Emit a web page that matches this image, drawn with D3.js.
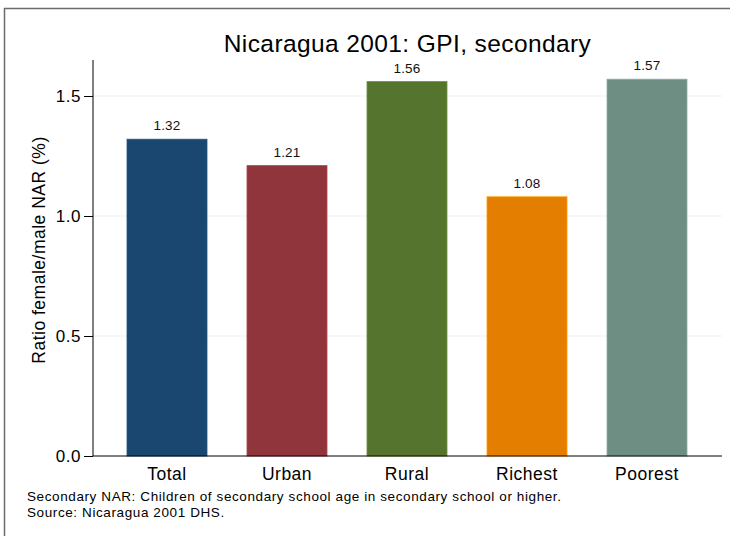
<!DOCTYPE html>
<html>
<head>
<meta charset="utf-8">
<script src="https://cdn.jsdelivr.net/npm/d3@7"></script>
<style>
  body { margin: 0; background: #fff; }
  svg { font-family: "Liberation Sans", Arial, sans-serif; }
</style>
</head>
<body>
<div class="root"></div>
<script>
var categories = ["Total", "Urban", "Rural", "Richest", "Poorest"],
    values = [1.32, 1.21, 1.56, 1.08, 1.57],
    valueLabels = ["1.32", "1.21", "1.56", "1.08", "1.57"],
    yTicks = [0, 0.5, 1.0, 1.5],
    colors = ["#1a476f", "#90353b", "#55752f", "#e37e00", "#6e8e84"],
    notes = ["Secondary NAR: Children of secondary school age in secondary school or higher.",
             "Source: Nicaragua 2001 DHS."];

var width = 730,
    height = 536,
    plot = { left: 93, right: 722, top: 60, bottom: 456 };

var svg = d3.select(".root")
  .append("svg")
  .attr("width", width)
  .attr("height", height);

// outer frame (right/bottom edges fall outside the picture)
svg.append("rect")
  .attr("x", 4.5).attr("y", 8.5)
  .attr("width", 740).attr("height", 540)
  .attr("fill", "none")
  .attr("stroke", "#6b6b6b")
  .attr("stroke-width", 1.5);

var x = d3.scaleBand()
  .domain(categories)
  .range([107, 707])
  .paddingInner(1 / 3)
  .paddingOuter(1 / 6);

var y = d3.scaleLinear()
  .domain([0, 1.65])
  .range([plot.bottom, plot.top]);

// gridlines
svg.append("g")
  .selectAll("line")
  .data(yTicks.filter(d => d > 0))
  .enter().append("line")
    .attr("x1", plot.left).attr("x2", plot.right)
    .attr("y1", d => y(d)).attr("y2", d => y(d))
    .attr("stroke", "#eaf2f3")
    .attr("stroke-width", 1.2);

// bars
svg.append("g")
  .selectAll("rect")
  .data(values)
  .enter().append("rect")
    .attr("x", (d, i) => x(categories[i]))
    .attr("y", d => y(d))
    .attr("width", x.bandwidth())
    .attr("height", d => y(0) - y(d))
    .attr("fill", (d, i) => colors[i])
    .attr("stroke", (d, i) => d3.color(colors[i]).brighter(0.6))
    .attr("stroke-width", 0.8);

// value labels
svg.append("g")
  .selectAll("text")
  .data(values)
  .enter().append("text")
    .attr("x", (d, i) => x(categories[i]) + x.bandwidth() / 2)
    .attr("y", d => y(d) - 9)
    .attr("text-anchor", "middle")
    .attr("font-size", "13.5px")
    .attr("letter-spacing", "0.2px")
    .attr("fill", "#111")
    .text((d, i) => valueLabels[i]);

// y axis
var yAxis = d3.axisLeft(y)
  .tickValues(yTicks)
  .tickFormat(d3.format(".1f"))
  .tickSize(9)
  .tickPadding(3);

var gy = svg.append("g")
  .attr("transform", "translate(" + plot.left + ",0)")
  .call(yAxis);
gy.select(".domain").remove();
gy.append("line")
  .attr("y1", plot.top).attr("y2", plot.bottom)
  .attr("stroke", "#000");
gy.selectAll(".tick line").attr("stroke", "#000");
gy.selectAll(".tick text")
  .attr("font-size", "17px")
  .attr("letter-spacing", "0.5px")
  .attr("font-family", "Liberation Sans, Arial, sans-serif")
  .attr("fill", "#000");

// x axis
var xAxis = d3.axisBottom(x).tickSize(0).tickPadding(12);
var gx = svg.append("g")
  .attr("transform", "translate(0," + plot.bottom + ")")
  .call(xAxis);
gx.select(".domain").remove();
gx.append("line")
  .attr("x1", plot.left).attr("x2", plot.right)
  .attr("stroke", "#000");
gx.selectAll(".tick text")
  .attr("font-size", "17.5px")
  .attr("letter-spacing", "0.5px")
  .attr("font-family", "Liberation Sans, Arial, sans-serif")
  .attr("fill", "#000");

// title
svg.append("text")
  .attr("x", (plot.left + plot.right) / 2)
  .attr("y", 52)
  .attr("text-anchor", "middle")
  .attr("font-size", "24.5px")
  .attr("letter-spacing", "0.4px")
  .attr("fill", "#000")
  .text("Nicaragua 2001: GPI, secondary");

// y axis title
svg.append("text")
  .attr("transform", "translate(45,250) rotate(-90)")
  .attr("text-anchor", "middle")
  .attr("font-size", "17.5px")
  .attr("letter-spacing", "0.5px")
  .attr("fill", "#000")
  .text("Ratio female/male NAR (%)");

// notes
svg.append("g")
  .selectAll("text")
  .data(notes)
  .enter().append("text")
    .attr("x", 27)
    .attr("y", (d, i) => 501 + i * 15.5)
    .attr("font-size", "13.5px")
    .attr("letter-spacing", "0.6px")
    .attr("fill", "#000")
    .text(d => d);
</script>
</body>
</html>
